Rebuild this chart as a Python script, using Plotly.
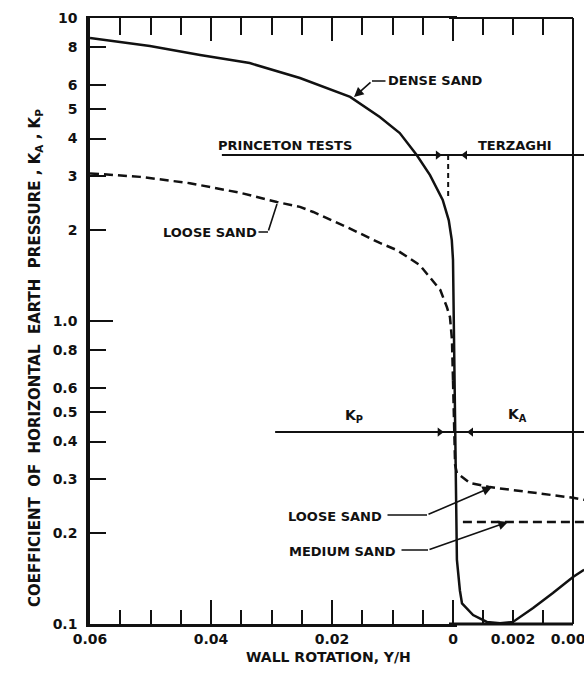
import plotly.graph_objects as go

# ---------------- data ----------------
# wall rotation Y/H: passive side (left, 0.06 -> 0) and active side (right, 0 -> beyond 0.004)
DENSE_P_ROT = [0.060, 0.0501, 0.0418, 0.0336, 0.0253, 0.0170, 0.0121, 0.0088, 0.0060, 0.0038, 0.0017, 0.0007, 0.0002, 0.0]
DENSE_P_K   = [8.59, 8.08, 7.55, 7.10, 6.34, 5.49, 4.71, 4.17, 3.53, 3.03, 2.51, 2.15, 1.85, 1.59]
DENSE_A_ROT = [0.0, 0.00003, 0.00007, 0.00010, 0.00013, 0.00023, 0.00030, 0.00067, 0.00113, 0.00157, 0.0020, 0.00267, 0.00333, 0.0040, 0.00437]
DENSE_A_K   = [1.59, 0.934, 0.430, 0.256, 0.163, 0.129, 0.117, 0.107, 0.1016, 0.1005, 0.1016, 0.113, 0.1265, 0.143, 0.151]

LOOSE_P_ROT = [0.060, 0.0517, 0.0435, 0.0352, 0.0291, 0.0253, 0.0231, 0.0175, 0.0121, 0.0093, 0.0055, 0.0021, 0.0010, 0.0005, 0.00017, 0.0]
LOOSE_P_K   = [3.07, 2.99, 2.85, 2.65, 2.47, 2.38, 2.29, 2.04, 1.81, 1.715, 1.53, 1.266, 1.11, 1.03, 0.866, 0.638]
LOOSE_A_ROT = [0.0, 0.00003, 0.00007, 0.00013, 0.00057, 0.00123, 0.00213, 0.0040, 0.00437]
LOOSE_A_K   = [0.638, 0.430, 0.335, 0.315, 0.292, 0.283, 0.276, 0.261, 0.257]

MEDIUM_A_ROT = [0.00033, 0.00437]
MEDIUM_A_K   = [0.217, 0.217]

# reference lines
TEST_LINE_K = 3.53             # Princeton tests / Terzaghi divider line
TEST_LINE_P_ROT = [0.0382, 0.0]
TEST_LINE_A_ROT = [0.0, 0.00437]
TEST_DIV_ROT = [0.0008, 0.0008]
TEST_DIV_K = [3.53, 2.56]
KLINE_K = 0.43                 # Kp / KA divider line
KLINE_P_ROT = [0.0294, 0.0]
KLINE_A_ROT = [0.0, 0.00437]

X_P_TICKS = [0.06, 0.04, 0.02, 0.0]
X_P_LABELS = ["0.06", "0.04", "0.02", "0"]
X_P_MINOR = [0.055, 0.05, 0.045, 0.035, 0.03, 0.025, 0.015, 0.01, 0.005]
X_A_TICKS = [0.002, 0.004]
X_A_LABELS = ["0.002", "0.004"]
X_A_MINOR = [0.001, 0.003]
X_A_END = 0.004                # right frame of the chart
Y_TICKS = [0.1, 0.2, 0.3, 0.4, 0.5, 0.6, 0.8, 1, 2, 3, 4, 5, 6, 8, 10]
Y_LABELS = ["0.1", "0.2", "0.3", "0.4", "0.5", "0.6", "0.8", "1.0", "2", "3", "4", "5", "6", "8", "10"]

# ---------------- figure geometry ----------------
W, H = 584, 674
L, R, T, B = 90, 0, 18, 50
PW, PH = W - L - R, H - T - B
ZERO_PX = 453                      # pixel of rotation 0
FRAME_PX = 573                     # pixel of the right frame (0.004)
P_PER_PX = 0.06 / (ZERO_PX - L)    # passive rotation per pixel
A_PER_PX = 0.004 / (FRAME_PX - ZERO_PX)
OV = 4                             # small overlap so lines at 0 are not clipped
D1 = (ZERO_PX - L) / PW
DOV = OV / PW

FONT = "DejaVu Sans"
BLACK = "#111111"
CLEAR = "rgba(0,0,0,0)"

fig = go.Figure()

solid = dict(color=BLACK, width=2.5)
dashed = dict(color=BLACK, width=2.5, dash="9px,5px")
thin = dict(color=BLACK, width=2)

def line(x, y, xa, style, mode="lines", **kw):
    fig.add_trace(go.Scatter(x=x, y=y, xaxis=xa, yaxis="y", mode=mode, line=style,
                             hoverinfo="skip", showlegend=False, **kw))

line(DENSE_P_ROT, DENSE_P_K, "x", solid)
line(DENSE_A_ROT, DENSE_A_K, "x3", solid)
line(LOOSE_P_ROT, LOOSE_P_K, "x", dashed)
line(LOOSE_A_ROT, LOOSE_A_K, "x3", dashed)
line(MEDIUM_A_ROT, MEDIUM_A_K, "x3", dashed)

line(TEST_LINE_P_ROT, [TEST_LINE_K] * 2, "x", thin)
line(TEST_LINE_A_ROT, [TEST_LINE_K] * 2, "x3", thin)
line(TEST_DIV_ROT, TEST_DIV_K, "x", dict(color=BLACK, width=2, dash="5px,4px"))
line(KLINE_P_ROT, [KLINE_K] * 2, "x", thin)
line(KLINE_A_ROT, [KLINE_K] * 2, "x3", thin)

# arrowheads on divider lines
mk = dict(color=BLACK, size=8)
line([0.0025], [TEST_LINE_K], "x", thin, mode="markers", marker=dict(symbol="triangle-right", **mk))
line([0.0004], [TEST_LINE_K], "x3", thin, mode="markers", marker=dict(symbol="triangle-left", **mk))
line([0.0022], [KLINE_K], "x", thin, mode="markers", marker=dict(symbol="triangle-right", **mk))
line([0.0006], [KLINE_K], "x3", thin, mode="markers", marker=dict(symbol="triangle-left", **mk))

# invisible carriers for the overlay axes
for xa, ya in [("x2", "y"), ("x4", "y"), ("x", "y2")]:
    fig.add_trace(go.Scatter(x=[None], y=[None], xaxis=xa, yaxis=ya, mode="markers",
                             hoverinfo="skip", showlegend=False))

tickfont = dict(family=FONT, size=14, color=BLACK, weight="bold")
common_x = dict(showgrid=False, zeroline=False, ticks="inside", tickwidth=2, tickcolor=BLACK,
                automargin=False)
p_range = [0.06, -OV * P_PER_PX]
a_range = [-OV * A_PER_PX, X_A_END + (W - R - FRAME_PX) * A_PER_PX]

fig.update_layout(
    width=W, height=H, margin=dict(l=L, r=R, t=T, b=B, autoexpand=False),
    paper_bgcolor="white", plot_bgcolor=CLEAR, showlegend=False,
    xaxis=dict(domain=[0, D1 + DOV], range=p_range, anchor="y", tickmode="array",
               tickvals=X_P_TICKS, ticktext=X_P_LABELS, ticklen=24, tickfont=tickfont,
               showline=True, linewidth=3, linecolor=BLACK,
               minor=dict(tickmode="array", tickvals=X_P_MINOR, ticks="inside", ticklen=14,
                          tickwidth=2, tickcolor=BLACK, showgrid=False),
               **common_x),
    xaxis2=dict(overlaying="x", side="top", anchor="y", range=p_range, tickmode="array",
                tickvals=[0.04, 0.02, 0.0], ticklen=23, showticklabels=False,
                showline=True, linewidth=2, linecolor=BLACK,
                minor=dict(tickmode="array", tickvals=X_P_MINOR, ticks="inside", ticklen=17,
                           tickwidth=2, tickcolor=BLACK, showgrid=False),
                **common_x),
    xaxis3=dict(domain=[D1 - DOV, 1], range=a_range, anchor="y", tickmode="array",
                tickvals=X_A_TICKS, ticktext=X_A_LABELS, ticklen=14, tickfont=tickfont,
                ticklabeloverflow="allow",
                showline=True, linewidth=3, linecolor=CLEAR,
                minor=dict(tickmode="array", tickvals=X_A_MINOR, ticks="inside", ticklen=14,
                           tickwidth=2, tickcolor=BLACK, showgrid=False),
                **common_x),
    xaxis4=dict(overlaying="x3", side="top", anchor="y", range=a_range, tickmode="array",
                tickvals=[0.001, 0.002, 0.003], ticklen=17, showticklabels=False,
                showline=True, linewidth=2, linecolor=CLEAR, **common_x),
    yaxis=dict(type="log", range=[-1, 1], anchor="x", tickmode="array", tickvals=Y_TICKS,
               ticktext=Y_LABELS, ticks="inside", ticklen=16, tickwidth=2, tickcolor=BLACK,
               tickfont=tickfont, ticklabelstandoff=6, showgrid=False, zeroline=False,
               showline=True, linewidth=3.5, linecolor=BLACK, automargin=False),
    yaxis2=dict(type="log", range=[-1, 1], overlaying="y", anchor="x", side="left",
                tickmode="array", tickvals=[1], ticks="inside", ticklen=23, tickwidth=2,
                tickcolor=BLACK, showticklabels=False, showgrid=False, zeroline=False,
                showline=False, automargin=False),
)

# frame of the active part (bottom, top, right) ending at 0.004
for (x0, x1, y0, y1, w) in [(a_range[0], X_A_END, 0, 0, 3), (a_range[0], X_A_END, 1, 1, 2),
                            (X_A_END, X_A_END, 0, 1, 2)]:
    fig.add_shape(type="line", xref="x3", yref="paper", x0=x0, x1=x1, y0=y0, y1=y1,
                  line=dict(color=BLACK, width=w))

# ---------------- annotations ----------------
def P(xp, yp):
    return (xp - L) / PW, (T + PH - yp) / PH

def text(xp, yp, s, size=13, **kw):
    x, y = P(xp, yp)
    fig.add_annotation(x=x, y=y, xref="paper", yref="paper", text=s, showarrow=False,
                       xanchor="center", yanchor="middle",
                       font=dict(family=FONT, size=size, color=BLACK, weight="bold"), **kw)

def leader(head, tail, arrowhead=0):
    x, y = P(*head)
    fig.add_annotation(x=x, y=y, xref="paper", yref="paper", text="", showarrow=True,
                       ax=tail[0] - head[0], ay=tail[1] - head[1], arrowhead=arrowhead,
                       arrowsize=1.2, arrowwidth=1.6, arrowcolor=BLACK, standoff=0,
                       startstandoff=0)

text(435, 80, "DENSE SAND")
leader((354, 97), (372, 81), arrowhead=2)
leader((372, 81), (387, 81))

text(285, 145, "PRINCETON TESTS")
text(515, 145, "TERZAGHI")

text(210, 232, "LOOSE SAND")
leader((277, 204), (268, 232), arrowhead=0)
leader((268, 232), (257, 232))

text(354, 416, "K<sub>P</sub>", size=14)
text(517, 415, "K<sub>A</sub>", size=14)

text(335, 516, "LOOSE SAND")
leader((492, 487), (427, 515), arrowhead=2)
leader((427, 515), (386, 515))

text(342, 551, "MEDIUM SAND")
leader((508, 522), (428, 550), arrowhead=2)
leader((428, 550), (400, 550))

text(328, 657, "WALL ROTATION, Y/H", size=14)
text(35, 358, "COEFFICIENT  OF  HORIZONTAL  EARTH  PRESSURE , K<sub>A</sub> , K<sub>P</sub>",
     size=15, textangle=-90)

fig.write_html("out.html", config={"displayModeBar": False},
               post_script="document.body.style.margin='0px';document.body.style.overflow='hidden';")
